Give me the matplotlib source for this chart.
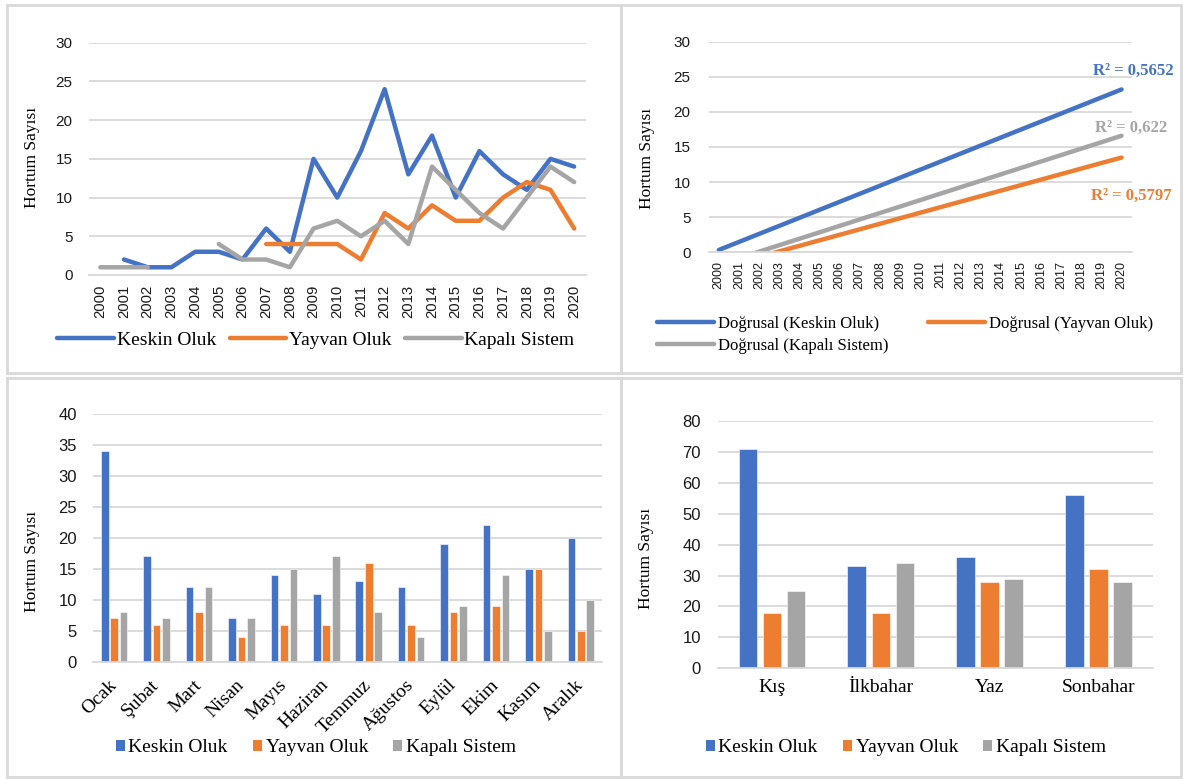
import numpy as np
import matplotlib.pyplot as plt
from matplotlib.patches import Patch, Rectangle
from matplotlib.lines import Line2D

# yearly tornado counts by type (None = no record)
years = [str(y) for y in range(2000, 2021)]
keskin_yil = [None, 2, 1, 1, 3, 3, 2, 6, 3, 15, 10, 16, 24, 13, 18, 10, 16, 13, 11, 15, 14]
yayvan_yil = [None, None, None, None, None, None, None, 4, 4, 4, 4, 2, 8, 6, 9, 7, 7, 10, 12, 11, 6]
kapali_yil = [1, 1, 1, None, None, 4, 2, 2, 1, 6, 7, 5, 7, 4, 14, 11, 8, 6, 10, 14, 12]

# linear trend values at 2000 and 2020, with R² labels
trend_2000 = [0.33, -2.23, -1.74]
trend_2020 = [23.2, 13.5, 16.6]
r2_labels = ["R² = 0,5652", "R² = 0,5797", "R² = 0,622"]

# monthly totals
aylar = ["Ocak", "Şubat", "Mart", "Nisan", "Mayıs", "Haziran", "Temmuz",
         "Ağustos", "Eylül", "Ekim", "Kasım", "Aralık"]
keskin_ay = [34, 17, 12, 7, 14, 11, 13, 12, 19, 22, 15, 20]
yayvan_ay = [7, 6, 8, 4, 6, 6, 16, 6, 8, 9, 15, 5]
kapali_ay = [8, 7, 12, 7, 15, 17, 8, 4, 9, 14, 5, 10]

# seasonal totals
mevsimler = ["Kış", "İlkbahar", "Yaz", "Sonbahar"]
keskin_mev = [71, 33, 36, 56]
yayvan_mev = [18, 18, 28, 32]
kapali_mev = [25, 34, 29, 28]

names = ["Keskin Oluk", "Yayvan Oluk", "Kapalı Sistem"]
colors = ["#4472C4", "#ED7D31", "#A5A5A5"]
grid_c = "#D9D9D9"
SERIF = "Liberation Serif"
SANS = "Liberation Sans"

W, H = 1186, 779
fig = plt.figure(figsize=(W / 100, H / 100), dpi=100)


def fx(x):
    return x / W


def fy(y):
    return 1 - y / H


def axes_px(x0, y0, x1, y1):
    return fig.add_axes([fx(x0), fy(y1), (x1 - x0) / W, (y1 - y0) / H])


def style(ax, yticks, ysize, ypad):
    ax.set_yticks(yticks)
    ax.set_ylim(yticks[0], yticks[-1])
    ax.grid(axis="y", color=grid_c, lw=1.3)
    ax.set_axisbelow(True)
    for s in ["top", "right", "left"]:
        ax.spines[s].set_visible(False)
    ax.spines["bottom"].set_color(grid_c)
    ax.spines["bottom"].set_linewidth(1.3)
    ax.tick_params(length=0)
    ax.tick_params(axis="y", pad=ypad)
    for t in ax.get_yticklabels():
        t.set_fontfamily(SANS)
        t.set_fontsize(ysize)
        t.set_color("#1a1a1a")


def ylabel(x, y):
    fig.text(fx(x), fy(y), "Hortum Sayısı", rotation=90, ha="center", va="center",
             fontsize=12.5, family=SERIF)


def as_float(vals):
    return np.array([np.nan if v is None else v for v in vals], dtype=float)


# panel borders
border_kw = dict(transform=fig.transFigure, fill=False, ec=grid_c, lw=2)
fig.add_artist(Rectangle((fx(7), fy(373)), fx(621) - fx(7), fy(5) - fy(373), **border_kw))
fig.add_artist(Rectangle((fx(621), fy(373)), fx(1181) - fx(621), fy(5) - fy(373), **border_kw))
fig.add_artist(Rectangle((fx(7), fy(777)), fx(621) - fx(7), fy(378) - fy(777), **border_kw))
fig.add_artist(Rectangle((fx(621), fy(777)), fx(1181) - fx(621), fy(378) - fy(777), **border_kw))

# --- yearly lines
ax1 = axes_px(88.5, 42.7, 586, 275)
x = np.arange(len(years))
lines = []
for vals, c in zip([keskin_yil, yayvan_yil, kapali_yil], colors):
    ln, = ax1.plot(x, as_float(vals), color=c, lw=3.2, solid_capstyle="round",
                   solid_joinstyle="round")
    lines.append(ln)
ax1.set_xlim(-0.5, len(years) - 0.5)
ax1.set_xticks(x)
ax1.set_xticklabels(years, rotation=90, fontsize=10.7, family=SANS, color="#1a1a1a")
ax1.tick_params(axis="x", pad=7)
style(ax1, list(range(0, 31, 5)), 11, 11.5)
ylabel(32.5, 157)
ax1.legend(lines, names, loc="center", bbox_to_anchor=(fx(316), fy(340)),
           bbox_transform=fig.transFigure, ncol=3, frameon=False,
           prop={"family": SERIF, "size": 14}, handlelength=2.9, handletextpad=0.15,
           columnspacing=0.7, borderpad=0, borderaxespad=0)

# --- linear trends
ax2 = axes_px(708.7, 41.7, 1131.6, 252.3)
tlines = []
for a, b, c in zip(trend_2000, trend_2020, colors):
    ln, = ax2.plot([0, len(years) - 1], [a, b], color=c, lw=3.2, solid_capstyle="round")
    tlines.append(ln)
ax2.set_xlim(-0.5, len(years) - 0.5)
ax2.set_xticks(x)
ax2.set_xticklabels(years, rotation=90, fontsize=9, family=SANS, color="#1a1a1a")
ax2.tick_params(axis="x", pad=6.5)
style(ax2, list(range(0, 31, 5)), 11, 13)
ylabel(647, 158)
r2_pos = [(1133, 71), (1131, 196), (1131, 128)]
for lab, (px, py), c in zip(r2_labels, r2_pos, colors):
    fig.text(fx(px), fy(py), lab, ha="center", va="center", color=c,
             fontsize=12, fontweight="bold", family=SERIF)
tnames = ["Doğrusal (" + n + ")" for n in names]
ax2.legend([tlines[0], tlines[2], tlines[1]], [tnames[0], tnames[2], tnames[1]],
           loc="center left", bbox_to_anchor=(fx(657), fy(335)),
           bbox_transform=fig.transFigure, ncol=2, frameon=False,
           prop={"family": SERIF, "size": 12}, handlelength=3.4, handletextpad=0.25,
           columnspacing=2.4, labelspacing=0.4, borderpad=0, borderaxespad=0)


def bars(ax, cats, series, step, width):
    xs = np.arange(len(cats))
    for i, (vals, c) in enumerate(zip(series, colors)):
        ax.bar(xs + (i - 1) * step, vals, width, color=c, edgecolor="white", lw=0.4)
    ax.set_xlim(-0.5, len(cats) - 0.5)
    ax.set_xticks(xs)


def square_legend(ax, cx, cy):
    handles = [Patch(facecolor=c) for c in colors]
    ax.legend(handles, names, loc="center", bbox_to_anchor=(fx(cx), fy(cy)),
              bbox_transform=fig.transFigure, ncol=3, frameon=False,
              prop={"family": SERIF, "size": 14}, handlelength=0.45, handleheight=0.45,
              handletextpad=0.2, columnspacing=1.3, borderpad=0, borderaxespad=0)


# --- monthly bars
ax3 = axes_px(93, 414, 602, 661.7)
bars(ax3, aylar, [keskin_ay, yayvan_ay, kapali_ay], 0.223, 0.18)
ax3.set_xticklabels(aylar, fontsize=14, family=SERIF)
for t in ax3.get_xticklabels():
    t.set_rotation(45)
    t.set_ha("right")
    t.set_va("center")
    t.set_rotation_mode("anchor")
ax3.tick_params(axis="x", pad=15)
style(ax3, list(range(0, 41, 5)), 12, 11.5)
ylabel(31.5, 561)
square_legend(ax3, 316, 748)

# --- seasonal bars
ax4 = axes_px(717.6, 421, 1153, 668.3)
bars(ax4, mevsimler, [keskin_mev, yayvan_mev, kapali_mev], 0.221, 0.172)
ax4.set_xticklabels(mevsimler, fontsize=14, family=SERIF)
ax4.tick_params(axis="x", pad=8)
style(ax4, list(range(0, 81, 10)), 12, 12)
ylabel(646, 558)
square_legend(ax4, 906, 748)

fig.savefig("out.png", dpi=100)
